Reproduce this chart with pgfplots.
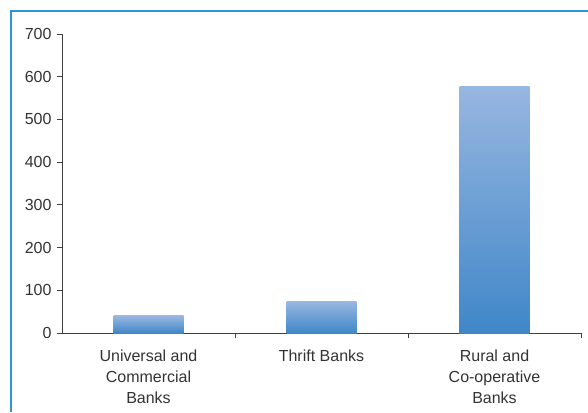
\documentclass[border=0pt]{standalone}
\usepackage{pgfplots}
\pgfplotsset{compat=1.18}
\usepackage{fontspec}
\setmainfont{Liberation Sans}
\definecolor{framec}{HTML}{2E96D8}
\definecolor{bartop}{HTML}{98B6E0}
\definecolor{barbot}{HTML}{3F87C8}
\definecolor{txt}{HTML}{333333}
\begin{document}
\begin{tikzpicture}[x=1pt,y=1pt]
\useasboundingbox (0,0) rectangle (588,412);
\draw[framec, line width=1.6pt] (11,0) -- (11,401) -- (588,401);
\begin{axis}[
  at={(62pt,79pt)}, anchor=south west,
  scale only axis, width=519pt, height=299pt,
  xmin=-0.5, xmax=2.5, ymin=0, ymax=700,
  axis lines*=left,
  axis line style={draw=black!75, line width=0.8pt},
  xtick={0,1,2},
  xticklabels={{Universal and\\Commercial\\Banks},{Thrift Banks},{Rural and\\Co-operative\\Banks}},
  x tick label style={align=center, text=txt, font=\fontsize{16}{21}\selectfont, anchor=north, yshift=-8pt},
  major x tick style={draw=none},
  minor xtick={0.5,1.5,2.5},
  minor tick length=5pt,
  minor x tick style={draw=black!75, line width=0.8pt},
  ytick={0,100,...,700},
  y tick label style={text=txt, font=\fontsize{16}{18}\selectfont, xshift=-2pt},
  major tick length=5pt,
  tick align=outside,
  y tick style={draw=black!75, line width=0.8pt},
  /pgf/number format/assume math mode=true,
  enlargelimits=false,
  clip=false,
]
\addplot[ybar, bar width=70pt, draw=none, top color=bartop, bottom color=barbot] coordinates {(0,40)};
\addplot[ybar, bar width=70pt, draw=none, top color=bartop, bottom color=barbot] coordinates {(1,73)};
\addplot[ybar, bar width=70pt, draw=none, top color=bartop, bottom color=barbot] coordinates {(2,577)};
\end{axis}
\end{tikzpicture}
\end{document}
